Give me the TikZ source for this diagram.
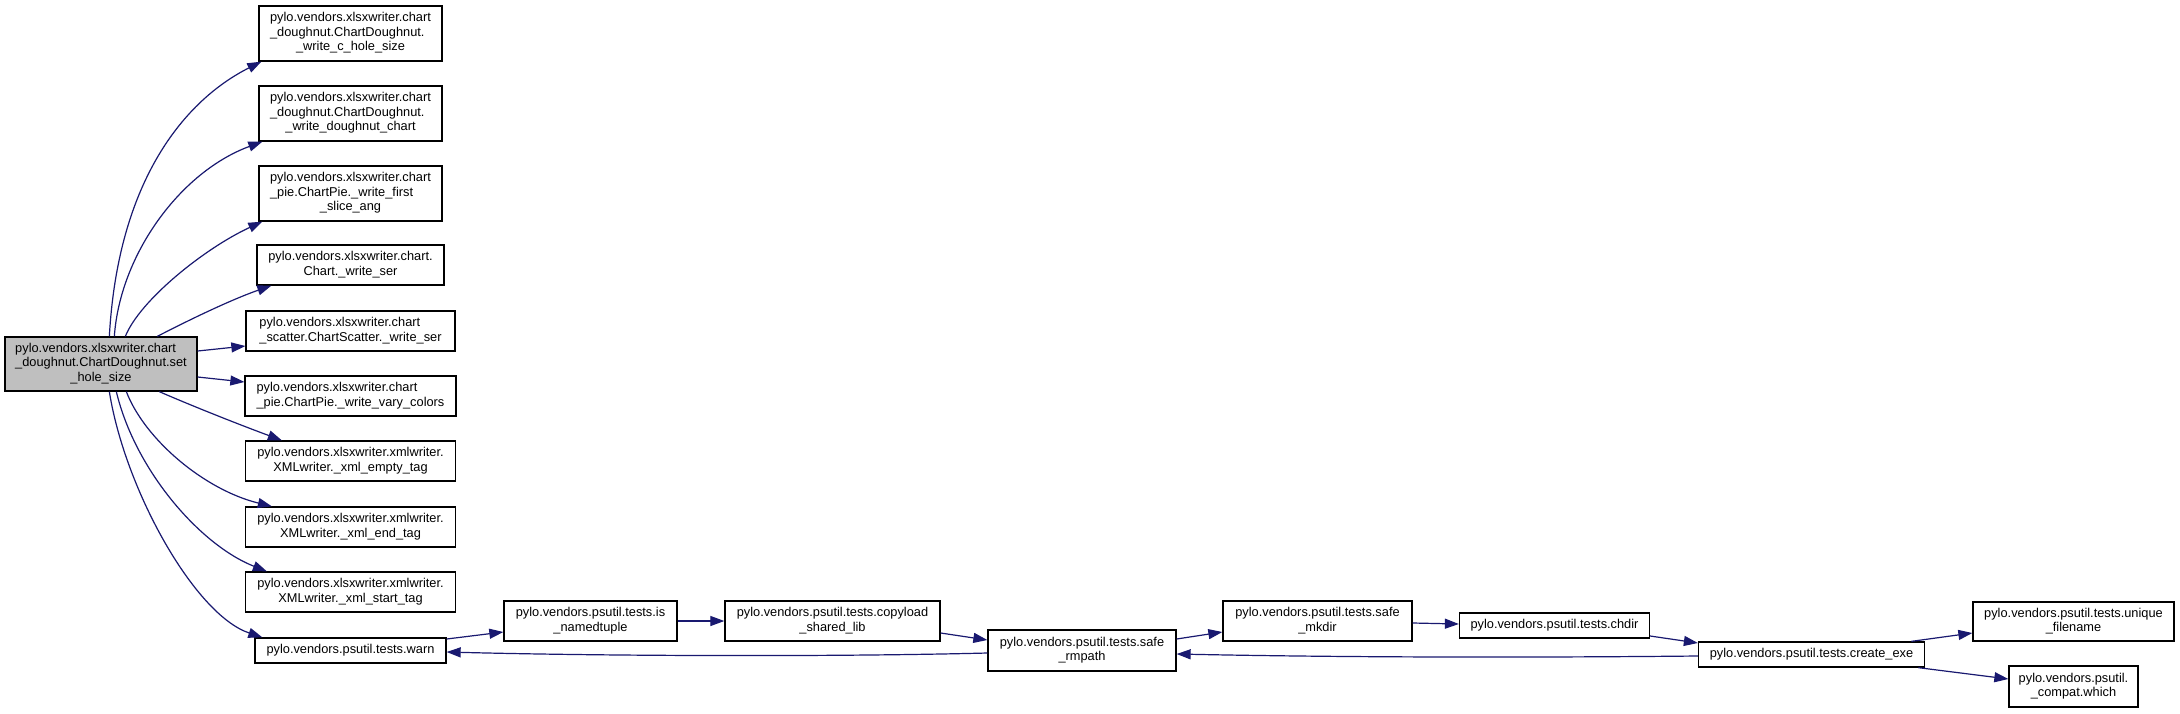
\documentclass[tikz,border=0pt]{standalone}
\usepackage{fontspec}
\setmainfont{Liberation Sans}
\usetikzlibrary{arrows.meta}
\definecolor{edgeblue}{HTML}{191970}
\definecolor{rootgray}{HTML}{BFBFBF}
\newcommand\lbl[1]{\begin{tabular}{@{}l@{}}#1\end{tabular}}
\newcommand\lastc[1]{\multicolumn{1}{@{}c@{}}{#1}}
\tikzset{
  box/.style={draw=black, line width=1.3pt, fill=white, inner sep=0pt,
    font=\fontsize{12.8}{14.5}\selectfont, text=black},
  rootbox/.style={box, fill=rootgray},
  call/.style={draw=edgeblue, line width=1.2pt,
    -{Triangle[length=14pt,width=10pt]}, edgeblue}
}
\begin{document}
\begin{tikzpicture}[x=1pt,y=-1pt]
\useasboundingbox (0,0) rectangle (2180,713);
\fill[white] (0,0) rectangle (2180,713);

% nodes
\node[rootbox, minimum width=192pt, minimum height=54pt] (root) at (101,364)
  {\lbl{pylo.vendors.xlsxwriter.chart\\\_doughnut.ChartDoughnut.set\\\lastc{\_hole\_size}}};
\node[box, minimum width=183pt, minimum height=55pt] (n1) at (350.5,33.5)
  {\lbl{pylo.vendors.xlsxwriter.chart\\\_doughnut.ChartDoughnut.\\\lastc{\_write\_c\_hole\_size}}};
\node[box, minimum width=183pt, minimum height=55pt] (n2) at (350.5,113.5)
  {\lbl{pylo.vendors.xlsxwriter.chart\\\_doughnut.ChartDoughnut.\\\lastc{\_write\_doughnut\_chart}}};
\node[box, minimum width=183pt, minimum height=55pt] (n3) at (350.5,193.5)
  {\lbl{pylo.vendors.xlsxwriter.chart\\\_pie.ChartPie.\_write\_first\\\lastc{\_slice\_ang}}};
\node[box, minimum width=187pt, minimum height=40pt] (n4) at (350.5,265)
  {\lbl{pylo.vendors.xlsxwriter.chart.\\\lastc{Chart.\_write\_ser}}};
\node[box, minimum width=209pt, minimum height=40pt] (n5) at (350.5,331)
  {\lbl{pylo.vendors.xlsxwriter.chart\\\lastc{\_scatter.ChartScatter.\_write\_ser}}};
\node[box, minimum width=211pt, minimum height=40pt] (n6) at (350.5,396)
  {\lbl{pylo.vendors.xlsxwriter.chart\\\lastc{\_pie.ChartPie.\_write\_vary\_colors}}};
\node[box, minimum width=210pt, minimum height=40pt] (n7) at (350.5,461)
  {\lbl{pylo.vendors.xlsxwriter.xmlwriter.\\\lastc{XMLwriter.\_xml\_empty\_tag}}};
\node[box, minimum width=210pt, minimum height=40pt] (n8) at (350.5,527)
  {\lbl{pylo.vendors.xlsxwriter.xmlwriter.\\\lastc{XMLwriter.\_xml\_end\_tag}}};
\node[box, minimum width=210pt, minimum height=40pt] (n9) at (350.5,592)
  {\lbl{pylo.vendors.xlsxwriter.xmlwriter.\\\lastc{XMLwriter.\_xml\_start\_tag}}};
\node[box, minimum width=191pt, minimum height=25pt] (warn) at (350.5,650.5)
  {pylo.vendors.psutil.tests.warn};
\node[box, minimum width=173pt, minimum height=40pt] (isnt) at (590.5,621)
  {\lbl{pylo.vendors.psutil.tests.is\\\lastc{\_namedtuple}}};
\node[box, minimum width=215pt, minimum height=40pt] (copy) at (832.5,621)
  {\lbl{pylo.vendors.psutil.tests.copyload\\\lastc{\_shared\_lib}}};
\node[box, minimum width=188pt, minimum height=41pt] (rmp) at (1082,650.5)
  {\lbl{pylo.vendors.psutil.tests.safe\\\lastc{\_rmpath}}};
\node[box, minimum width=189pt, minimum height=40pt] (mkdir) at (1317.5,621)
  {\lbl{pylo.vendors.psutil.tests.safe\\\lastc{\_mkdir}}};
\node[box, minimum width=190pt, minimum height=25pt] (chdir) at (1554.5,625.5)
  {pylo.vendors.psutil.tests.chdir};
\node[box, minimum width=226pt, minimum height=25pt] (cexe) at (1811.5,654.5)
  {pylo.vendors.psutil.tests.create\_exe};
\node[box, minimum width=201pt, minimum height=39pt] (uniq) at (2073.5,621.5)
  {\lbl{pylo.vendors.psutil.tests.unique\\\lastc{\_filename}}};
\node[box, minimum width=129pt, minimum height=41pt] (which) at (2073.5,686.5)
  {\lbl{pylo.vendors.psutil.\\\lastc{\_compat.which}}};

% edges from root
\draw[call] ([xshift=105pt]root.north west) .. controls (118,180) and (185,100) .. ([xshift=3pt]n1.south west);
\draw[call] ([xshift=110pt]root.north west) .. controls (120,255) and (180,172) .. ([xshift=4pt]n2.south west);
\draw[call] ([xshift=121pt]root.north west) .. controls (140,300) and (205,248) .. ([xshift=4pt]n3.south west);
\draw[call] ([xshift=153pt]root.north west) .. controls (185,322) and (230,300) .. ([xshift=15pt]n4.south west);
\draw[call] ([yshift=13pt]root.east) -- ([yshift=-15pt]n5.west);
\draw[call] ([yshift=-13pt]root.east) -- ([yshift=14pt]n6.west);
\draw[call] ([xshift=155pt]root.south west) .. controls (190,405) and (235,423) .. ([xshift=37pt]n7.north west);
\draw[call] ([xshift=122pt]root.south west) .. controls (145,440) and (205,490) .. ([xshift=27pt]n8.north west);
\draw[call] ([xshift=112pt]root.south west) .. controls (135,470) and (200,545) .. ([xshift=22pt]n9.north west);
\draw[call] ([xshift=105pt]root.south west) .. controls (125,490) and (195,615) .. ([xshift=8pt]warn.north west);

% chain
\draw[call] ([yshift=11.5pt]warn.east) -- ([yshift=-11pt]isnt.west);
\draw[call] (isnt.east) -- (copy.west);
\draw[call] ([yshift=-12pt]copy.east) -- ([yshift=10.5pt]rmp.west);
\draw[call] ([yshift=-2.5pt]rmp.west) .. controls (830,657) and (600,656) .. ([yshift=-1.5pt]warn.east);
\draw[call] ([yshift=11.5pt]rmp.east) -- ([yshift=-11pt]mkdir.west);
\draw[call] ([yshift=-2pt]mkdir.east) -- ([yshift=1.5pt]chdir.west);
\draw[call] ([yshift=-10.5pt]chdir.east) -- ([yshift=11.5pt]cexe.west);
\draw[call] ([yshift=-1.5pt]cexe.west) .. controls (1500,658) and (1320,657) .. ([yshift=-3.5pt]rmp.east);
\draw[call] ([xshift=213.5pt]cexe.north west) -- ([yshift=-11.5pt]uniq.west);
\draw[call] ([xshift=220.5pt]cexe.south west) -- ([yshift=7.5pt]which.west);
\end{tikzpicture}
\end{document}
